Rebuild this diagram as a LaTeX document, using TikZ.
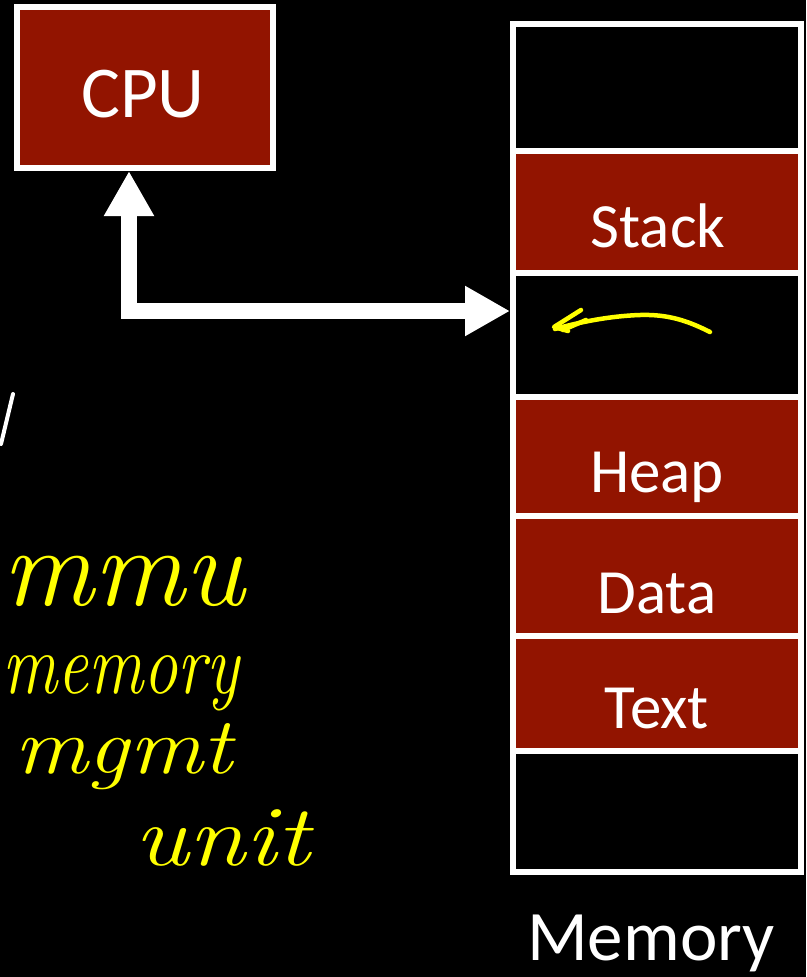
\documentclass[tikz,border=0pt]{standalone}
\usepackage{fontspec}
\newfontfamily\calfont{Carlito}
\usetikzlibrary{arrows.meta}
\definecolor{cpured}{RGB}{146,20,0}
\definecolor{inkyellow}{RGB}{255,255,0}
\tikzset{
  box/.style={draw=white, line width=6pt, fill=cpured, inner sep=0pt, minimum width=256pt, minimum height=161pt},
  seg/.style={draw=white, line width=6pt, inner sep=0pt, minimum width=288pt},
  redseg/.style={seg, fill=cpured},
  lbl/.style={text=white, anchor=base, inner sep=0pt, font=\calfont\fontsize{63}{63}\selectfont},
  biglbl/.style={text=white, anchor=base, inner sep=0pt, font=\calfont\fontsize{71}{71}\selectfont},
  bigarrow/.style={draw=white, line width=16pt, line join=miter,
    {Triangle[width=47pt,length=45pt]}-{Triangle[width=47pt,length=45pt]}},
  hand/.style={draw=inkyellow, line width=4.5pt, line cap=round, line join=round},
  handtext/.style={text=inkyellow, anchor=base west, inner sep=0pt},
}
\begin{document}
\begin{tikzpicture}[x=1pt,y=-1pt]
\useasboundingbox (0,0) rectangle (806,977);
\fill[black] (0,0) rectangle (806,977);
\clip (0,0) rectangle (806,977);
% CPU
\node[box] (cpu) at (145,87.5) {};
\node[lbl, font=\calfont\fontsize{73}{73}\selectfont] (cpulbl) at (143,117) {CPU};
% Memory segments
\node[seg, minimum height=127pt] (top) at (657,87.5) {};
\node[redseg, minimum height=121.5pt] (stack) at (657,211.75) {};
\node[seg, minimum height=124pt] (gap) at (657,334.5) {};
\node[redseg, minimum height=119pt] (heap) at (657,456) {};
\node[redseg, minimum height=120pt] (data) at (657,575.5) {};
\node[redseg, minimum height=115.5pt] (textseg) at (657,693.25) {};
\node[seg, minimum height=120.5pt] (bottom) at (657,811.25) {};
\draw[white, line width=6pt] (top.north west) ++(3pt,-3pt) rectangle ([xshift=-3pt,yshift=3pt]bottom.south east);
\node[lbl] (stacklbl) at (658,247) {Stack};
\node[lbl] (heaplbl) at (657,492) {Heap};
\node[lbl] (datalbl) at (657,613) {Data};
\node[lbl] (textlbl) at (657,728) {Text};
\node[biglbl] (memlbl) at (651,960) {Memory};
% CPU <-> memory connector
\draw[bigarrow] ([xshift=-16pt]cpu.south) |- ([yshift=23.5pt]gap.west);
% handwritten arrow in free area
\draw[hand] (710,332) .. controls (690,322) and (670,314) .. (640,315) .. controls (610,316) and (580,322) .. (555,329);
\draw[hand] (581,310) -- (554,327) -- (568,331);
\draw[hand] (586,320) -- (563,330);
% cut-off white mark at left
\draw[white, line width=4pt, line cap=round] (13,394) -- (1,444);
% handwritten notes
\node[handtext, font=\itshape\fontsize{112}{112}\selectfont, xscale=1.02] (mmu) at (2,605) {mmu};
\node[handtext, font=\itshape\fontsize{86}{86}\selectfont, xscale=0.8] (memory) at (2,693) {memory};
\node[handtext, font=\itshape\fontsize{80}{80}\selectfont, xscale=1.15] (mgmt) at (14,773) {mgmt};
\node[handtext, font=\itshape\fontsize{86}{86}\selectfont, xscale=1.2] (unit) at (134,865) {unit};
\end{tikzpicture}
\end{document}
